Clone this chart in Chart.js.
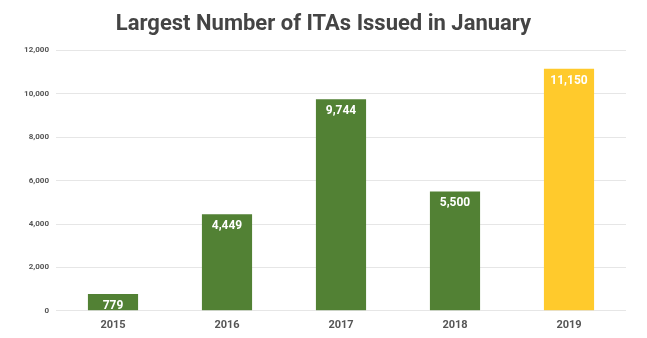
<!DOCTYPE html>
<html>
<head>
<meta charset="utf-8">
<script src="https://cdn.jsdelivr.net/npm/chart.js@4.4.1/dist/chart.umd.min.js"></script>
<style>
  html, body { margin: 0; padding: 0; background: #fff; }
  #chart { display: block; }
</style>
</head>
<body>
<canvas id="chart" width="647" height="338"></canvas>
<script>
const years = ['2015', '2016', '2017', '2018', '2019'];
const itas = [779, 4449, 9744, 5500, 11150];
const barColors = ['#528134', '#528134', '#528134', '#528134', '#FFCA2C'];
const yTicks = [0, 2000, 4000, 6000, 8000, 10000, 12000];

// writes the value in white just inside the top of each bar
const barValueLabels = {
  id: 'barValueLabels',
  afterDatasetsDraw(chart) {
    const ctx = chart.ctx;
    const meta = chart.getDatasetMeta(0);
    ctx.save();
    ctx.font = 'bold 12px Roboto, Arial, sans-serif';
    ctx.fillStyle = '#ffffff';
    ctx.textAlign = 'center';
    ctx.textBaseline = 'middle';
    meta.data.forEach((bar, i) => {
      ctx.fillText(itas[i].toLocaleString('en-US'), bar.x, bar.y + 12);
    });
    ctx.restore();
  }
};

new Chart(document.getElementById('chart'), {
  type: 'bar',
  data: {
    labels: years,
    datasets: [{
      data: itas,
      backgroundColor: barColors,
      barPercentage: 0.44,
      categoryPercentage: 1
    }]
  },
  options: {
    responsive: false,
    animation: false,
    layout: { padding: { left: 21, right: 21, top: 4, bottom: 6 } },
    plugins: {
      legend: { display: false },
      tooltip: { enabled: false },
      title: {
        display: true,
        text: 'Largest Number of ITAs Issued in January',
        color: '#444444',
        font: { family: 'Roboto, Arial, sans-serif', size: 22, weight: 'bold' },
        padding: { top: 7, bottom: 13 }
      }
    },
    scales: {
      x: {
        grid: { display: false },
        border: { display: false },
        ticks: {
          color: '#555555',
          padding: 0,
          font: { family: 'Roboto, Arial, sans-serif', size: 11, weight: 'bold' }
        }
      },
      y: {
        min: 0,
        max: 12000,
        afterFit(scale) { scale.width = 35; },
        afterBuildTicks(scale) { scale.ticks = yTicks.map(v => ({ value: v })); },
        grid: { color: '#e6e6e6', drawTicks: false },
        border: { display: false },
        ticks: {
          color: '#555555',
          padding: 7,
          font: { family: 'Roboto, Arial, sans-serif', size: 8, weight: 'bold' },
          callback: v => v.toLocaleString('en-US')
        }
      }
    }
  },
  plugins: [barValueLabels]
});
</script>
</body>
</html>
